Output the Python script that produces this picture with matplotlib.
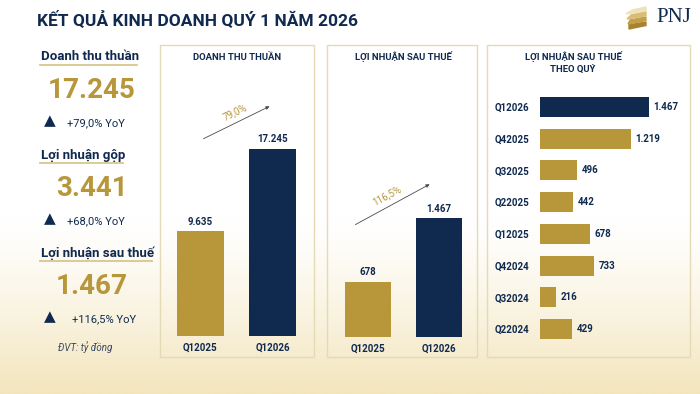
import numpy as np
import matplotlib
matplotlib.use("Agg")
import matplotlib.pyplot as plt
from matplotlib.patches import Rectangle, Polygon

plt.rcParams['font.family'] = ['Roboto', 'DejaVu Sans']

NAVY = '#10294f'
GOLD = '#b8963a'
BORDER = '#e4dab6'

# data
kpi_names = ['Doanh thu thuần', 'Lợi nhuận gộp', 'Lợi nhuận sau thuế']
kpi_values = ['17.245', '3.441', '1.467']
kpi_growth = ['+79,0% YoY', '+68,0% YoY', '+116,5% YoY']

rev_labels = ['Q12025', 'Q12026']
rev_values = [9635, 17245]
rev_growth = '79,0%'

np_labels = ['Q12025', 'Q12026']
np_values = [678, 1467]
np_growth = '116,5%'

q_labels = ['Q12026', 'Q42025', 'Q32025', 'Q22025', 'Q12025', 'Q42024', 'Q32024', 'Q22024']
q_values = [1467, 1219, 496, 442, 678, 733, 216, 429]

W, H = 700, 394


def fx(x):
    return x / W


def fy(y):
    return 1 - y / H


def box(x0, y0, x1, y1):
    return [fx(x0), fy(y1), (x1 - x0) / W, (y1 - y0) / H]


def fmt(v):
    return f'{v:,}'.replace(',', '.')


fig = plt.figure(figsize=(7, 3.94), dpi=100)

# background gradient
bg = fig.add_axes([0, 0, 1, 1], zorder=-10)
yy = np.linspace(0, 1, 200)
t = np.clip((yy - 0.55) / 0.45, 0, 1) ** 1.3
top = np.array([1.0, 1.0, 1.0])
bot = np.array([243, 229, 188]) / 255
grad = top[None, :] * (1 - t[:, None]) + bot[None, :] * t[:, None]
bg.imshow(grad[:, None, :], aspect='auto', extent=[0, 1, 1, 0])
bg.set_xlim(0, 1)
bg.set_ylim(1, 0)
bg.axis('off')

# title
fig.text(fx(37), fy(19), 'KẾT QUẢ KINH DOANH QUÝ 1 NĂM 2026', color=NAVY,
         fontsize=12.5, fontweight='bold', va='center', ha='left')

# logo
fig.text(fx(691), fy(17), 'PNJ', color=NAVY, fontsize=15, family='Liberation Serif',
         va='center', ha='right')
for i, c in enumerate(['#eee2b8', '#d9bd75', '#c49f4b', '#a98230']):
    y0 = 7 + i * 5
    fig.add_artist(Polygon([(fx(646), fy(y0)), (fx(632 - i), fy(y0 + 3)),
                            (fx(626 + i), fy(y0 + 7)), (fx(646), fy(y0 + 3.5))],
                           closed=True, color=c, transform=fig.transFigure))

# left KPI column
head_y = [57, 155, 253]
line_end = [137, 123, 152]
for i in range(3):
    y = head_y[i]
    fig.text(fx(41), fy(y), kpi_names[i], color=NAVY, fontsize=9.5, fontweight='bold',
             va='center', ha='left')
    fig.add_artist(plt.Line2D([fx(40), fx(line_end[i])], [fy(y + 7.5), fy(y + 7.5)],
                              color='#d9c78f', lw=1.3))
    fig.text(fx(92), fy(y + 33), kpi_values[i], color=GOLD, fontsize=20, fontweight='bold',
             va='center', ha='center')
    fig.text(fx(50), fy(y + 64), '▲', color=NAVY, fontsize=11, family='DejaVu Sans',
             va='center', ha='center')
    fig.text(fx(67 if i < 2 else 72), fy(y + 66), kpi_growth[i], color=NAVY, fontsize=8,
             va='center', ha='left')
fig.text(fx(58), fy(347), 'ĐVT: tỷ đồng', color='#3c4a63', fontsize=7, style='italic',
         va='center', ha='left')

# panel frames
for x0, x1 in [(160, 314), (327, 477), (487, 690)]:
    fig.add_artist(Rectangle((fx(x0), fy(357)), (x1 - x0) / W, (357 - 45) / H,
                             fill=False, edgecolor=BORDER, lw=1.0))

fig.text(fx(237), fy(57), 'DOANH THU THUẦN', color=NAVY, fontsize=6.8, fontweight='bold',
         ha='center', va='center')
fig.text(fx(403), fy(57), 'LỢI NHUẬN SAU THUẾ', color=NAVY, fontsize=6.8, fontweight='bold',
         ha='center', va='center')
fig.text(fx(573), fy(63), 'LỢI NHUẬN SAU THUẾ\nTHEO QUÝ', color=NAVY, fontsize=6.8,
         fontweight='bold', ha='center', va='center', linespacing=1.6)


def small_bars(rect, labels, values, ymax, growth, a0, a1, tpos, rot):
    ax = fig.add_axes(rect)
    ax.bar(range(len(values)), values, width=0.65, color=[GOLD, NAVY])
    ax.set_xlim(-0.5, 1.5)
    ax.set_ylim(0, ymax)
    for i, v in enumerate(values):
        ax.text(i, v + ymax * 0.018, fmt(v), ha='center', va='bottom', color=NAVY,
                fontsize=7, fontweight='bold')
    ax.set_xticks(range(len(labels)))
    ax.set_xticklabels(labels, fontsize=7, fontweight='bold', color=NAVY)
    ax.tick_params(axis='x', length=0, pad=5)
    ax.set_yticks([])
    for s in ax.spines.values():
        s.set_visible(False)
    ax.patch.set_alpha(0)
    ax.annotate('', xy=a1, xytext=a0, xycoords='axes fraction',
                arrowprops=dict(arrowstyle='-|>', color='#4a4a4a', lw=0.6,
                                mutation_scale=5))
    ax.text(tpos[0], tpos[1], growth, transform=ax.transAxes, color=GOLD, fontsize=7,
            rotation=rot, ha='center', va='center')
    return ax


small_bars(box(164, 70, 309, 336), rev_labels, rev_values, 24500, rev_growth,
           (0.255, 0.737), (0.745, 0.868), (0.49, 0.84), 26)
small_bars(box(332.5, 70, 474.5, 337), np_labels, np_values, 3300, np_growth,
           (0.144, 0.416), (0.701, 0.577), (0.384, 0.53), 28)

# quarterly horizontal bars
ax3 = fig.add_axes(box(540, 91, 685, 345))
ax3.barh(range(len(q_values)), q_values, height=0.63,
         color=[NAVY] + [GOLD] * (len(q_values) - 1))
ax3.set_ylim(len(q_values) - 0.5, -0.5)
ax3.set_xlim(0, 1951)
ax3.set_yticks(range(len(q_labels)))
ax3.set_yticklabels(q_labels, fontsize=7, fontweight='bold', color=NAVY)
ax3.tick_params(axis='y', length=0, pad=8)
ax3.set_xticks([])
for i, v in enumerate(q_values):
    ax3.text(v + 60, i, fmt(v), va='center', ha='left', color=NAVY, fontsize=7,
             fontweight='bold')
for s in ax3.spines.values():
    s.set_visible(False)
ax3.patch.set_alpha(0)

fig.savefig('out.png', dpi=100)
